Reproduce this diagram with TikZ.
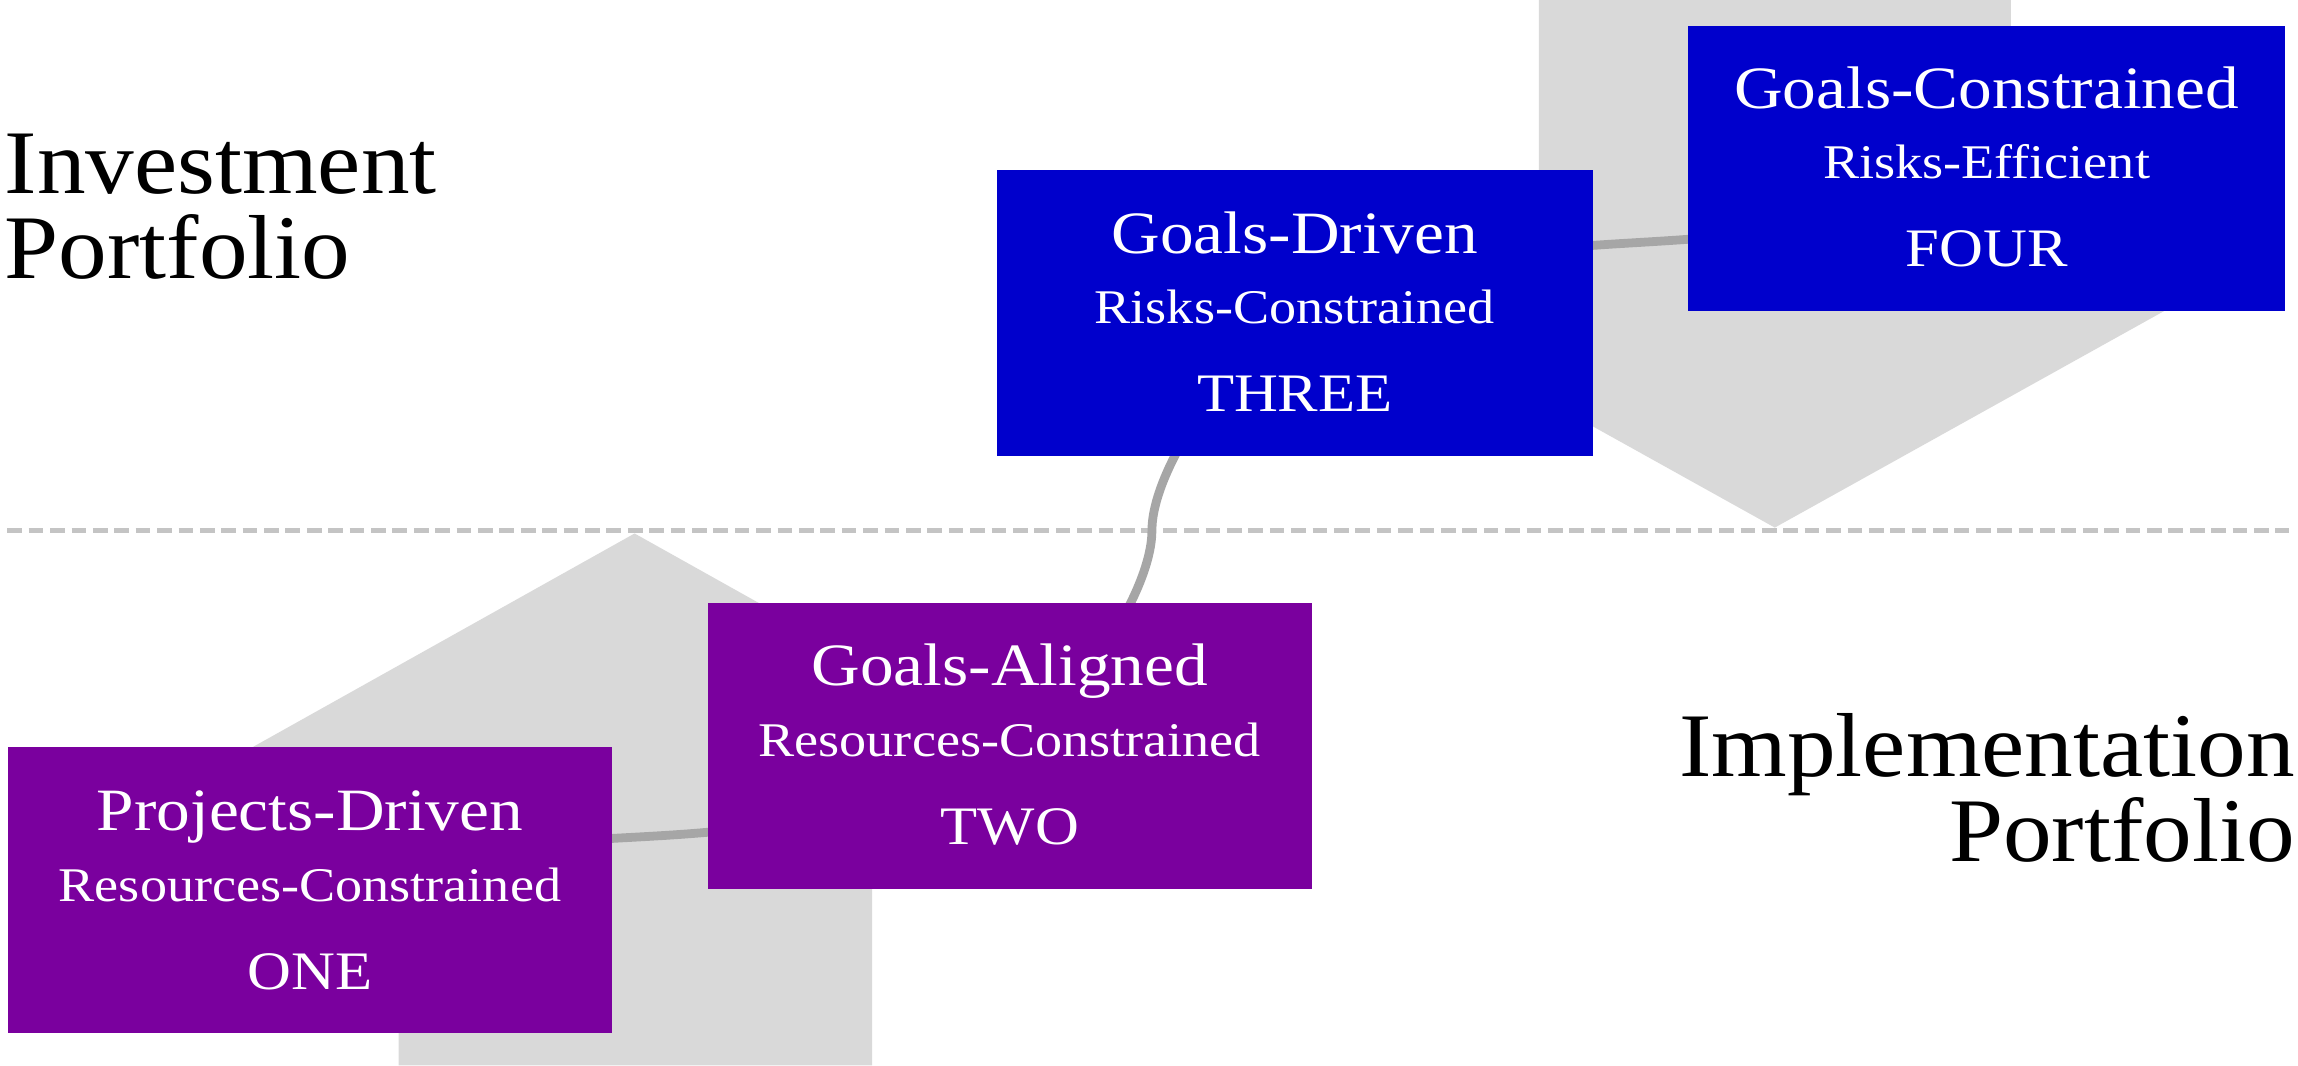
\documentclass[tikz,border=0pt]{standalone}
\usepackage{fontspec}
\setmainfont{Liberation Serif}
\newfontfamily\boxfont{Liberation Serif}[FakeStretch=1.12]
\newfontfamily\titlefont{Liberation Serif}[FakeStretch=1.07]
\usetikzlibrary{backgrounds}
\definecolor{stagepurple}{HTML}{7A009E}
\definecolor{stageblue}{HTML}{0000CC}
\definecolor{arrowgray}{HTML}{D9D9D9}
\definecolor{linkgray}{HTML}{A6A6A6}
\definecolor{splitgray}{HTML}{C4C4C4}
\tikzset{
  stagebox/.style={rectangle, inner sep=0pt, minimum width=#1, minimum height=195pt},
  purplebox/.style={stagebox=412pt, fill=stagepurple},
  bluebox/.style={stagebox=407pt, fill=stageblue},
  headline/.style={font=\boxfont\fontsize{41}{41}\selectfont, text=white, inner sep=0pt, anchor=base},
  subline/.style={font=\boxfont\fontsize{33}{33}\selectfont, text=white, inner sep=0pt, anchor=base},
  numline/.style={font=\boxfont\fontsize{37}{37}\selectfont, text=white, inner sep=0pt, anchor=base},
  sidetitle/.style={font=\titlefont\fontsize{62}{62}\selectfont, text=black, inner sep=0pt},
  bigarrow/.style={fill=arrowgray, draw=none},
  splitline/.style={draw=splitgray, line width=3pt, dash pattern=on 10pt off 4.6pt},
  link/.style={draw=linkgray, line width=6pt}
}
\begin{document}
\begin{tikzpicture}[x=1pt, y=-1pt]
\useasboundingbox (0,0) rectangle (1568,727);

% stage boxes
\node[purplebox] (ONE)   at (211.5,607.5) {};
\node[purplebox] (TWO)   at (689,509)     {};
\node[bluebox]   (THREE) at (883.5,213.5) {};
\node[bluebox]   (FOUR)  at (1355.5,115)  {};

% box labels
\node[headline] (ONEa) at (211.5,567) {Projects-Driven};
\node[subline]  (ONEb) at (211.5,615) {Resources-Constrained};
\node[numline]  (ONEc) at (211.5,675) {ONE};

\node[headline] (TWOa) at (689,468) {Goals-Aligned};
\node[subline]  (TWOb) at (689,516) {Resources-Constrained};
\node[numline]  (TWOc) at (689,576) {TWO};

\node[headline] (THREEa) at (883.5,173) {Goals-Driven};
\node[subline]  (THREEb) at (883.5,221) {Risks-Constrained};
\node[numline]  (THREEc) at (883.5,281) {THREE};

\node[headline] (FOURa) at (1355.5,74)  {Goals-Constrained};
\node[subline]  (FOURb) at (1355.5,122) {Risks-Efficient};
\node[numline]  (FOURc) at (1355.5,182) {FOUR};

% side titles
\node[sidetitle, anchor=base west] (invA) at (3,132) {Investment};
\node[sidetitle, anchor=base west] (invB) at (3,190) {Portfolio};
\node[sidetitle, anchor=base east] (impA) at (1566,530) {Implementation};
\node[sidetitle, anchor=base east] (impB) at (1566,588) {Portfolio};

\begin{pgfonlayer}{background}
  % upward block arrow behind the lower stages
  \path[bigarrow] (272,727) -- (272,543) -- (113,543) -- (433,364)
    -- (753,543) -- (595,543) -- (595,727) -- cycle;
  % downward block arrow behind the upper stages
  \path[bigarrow] (1050,0) -- (1050,182) -- (891,182) -- (1211,360)
    -- (1531,182) -- (1372,182) -- (1372,0) -- cycle;
  % divider between the two portfolios
  \coordinate (splitL) at (5,362);
  \coordinate (splitR) at (1562,362);
  \draw[splitline] (splitL) -- (splitR);
  % links between consecutive stages
  \coordinate (turn) at (786,362);
  \draw[link] (ONE.center) .. controls +(190,-65) and +(-190,97) .. (TWO.center);
  \draw[link] (TWO.center) .. controls +(54,-38) and +(0,38) .. (turn)
                           .. controls +(0,-40) and +(-50,37) .. (THREE.center);
  \draw[link] (THREE.center) .. controls +(190,-80) and +(-190,83) .. (FOUR.center);
\end{pgfonlayer}
\end{tikzpicture}
\end{document}
